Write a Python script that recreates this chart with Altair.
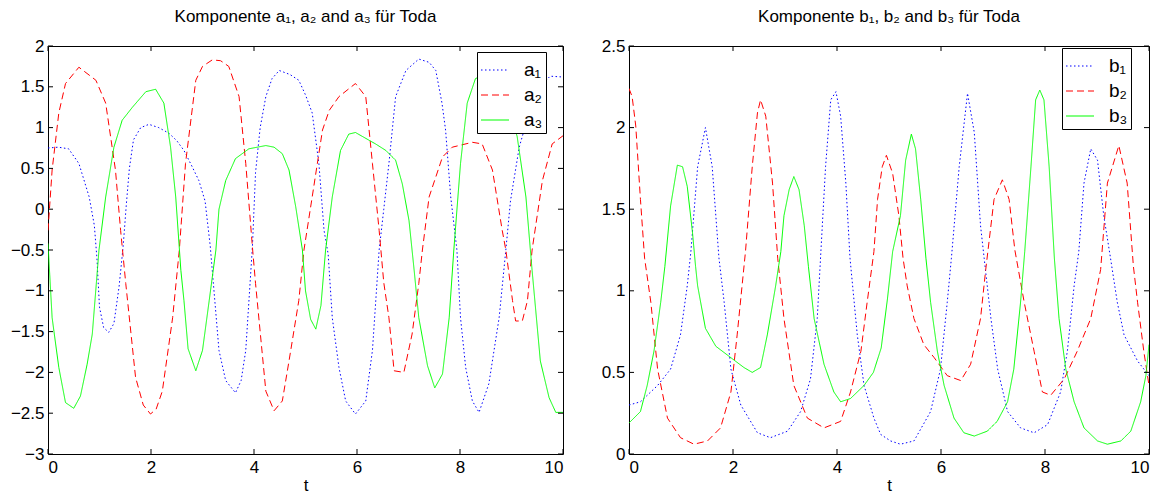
import altair as alt
import pandas as pd

# ---------------- data ----------------
a1_t = [0, 0.2, 0.4, 0.6, 0.8, 0.9, 0.95, 1.0, 1.08, 1.18, 1.28, 1.38, 1.46, 1.52, 1.58, 1.66, 1.8, 1.96,
        2.15, 2.35, 2.5, 2.64, 2.8, 2.93, 3.05, 3.15, 3.32, 3.45, 3.64, 3.75, 3.84, 3.97, 4.03, 4.12, 4.23,
        4.35, 4.49, 4.7, 4.87, 5.0, 5.13, 5.26, 5.36, 5.44, 5.52, 5.65, 5.78, 5.97, 6.17, 6.3, 6.43, 6.52,
        6.62, 6.75, 6.95, 7.2, 7.4, 7.53, 7.65, 7.72, 7.82, 7.94, 8.01, 8.11, 8.24, 8.37, 8.56, 8.76, 8.89,
        8.98, 9.15, 9.35, 9.55, 9.75, 10]
a1_v = [0.75, 0.76, 0.74, 0.56, 0.15, -0.2, -0.6, -1.2, -1.45, -1.51, -1.4, -0.95, -0.45, 0.05, 0.5, 0.85,
        1.0, 1.04, 1.0, 0.93, 0.84, 0.72, 0.52, 0.35, 0.1, -0.45, -1.73, -2.1, -2.25, -2.1, -1.73, -0.45,
        0.45, 1.0, 1.38, 1.6, 1.7, 1.65, 1.58, 1.4, 1.18, 0.56, -0.26, -0.55, -1.33, -1.94, -2.35, -2.51,
        -2.35, -1.73, -0.5, 0.0, 0.56, 1.38, 1.7, 1.84, 1.8, 1.7, 1.3, 0.97, 0.15, -0.5, -1.33, -1.94,
        -2.35, -2.49, -2.14, -1.33, -0.5, 0.1, 0.76, 1.2, 1.5, 1.63, 1.62]

a2_t = [0, 0.08, 0.21, 0.34, 0.6, 0.93, 1.12, 1.31, 1.41, 1.51, 1.7, 1.85, 1.99, 2.1, 2.22, 2.42, 2.55,
        2.67, 2.87, 3.0, 3.19, 3.35, 3.51, 3.71, 3.84, 3.97, 4.03, 4.23, 4.39, 4.55, 4.68, 4.87, 4.97, 5.13,
        5.33, 5.46, 5.65, 5.97, 6.17, 6.3, 6.43, 6.52, 6.62, 6.72, 6.91, 7.07, 7.2, 7.27, 7.4, 7.66, 7.85,
        8.24, 8.43, 8.63, 8.82, 8.89, 9.02, 9.08, 9.21, 9.31, 9.4, 9.6, 9.79, 10]
a2_v = [-0.26, 0.48, 1.18, 1.54, 1.74, 1.58, 1.3, 0.48, -0.26, -0.91, -2.06, -2.4, -2.51, -2.45, -2.23,
        -1.33, -0.5, 0.56, 1.58, 1.75, 1.83, 1.82, 1.75, 1.38, 0.56, -0.47, -0.91, -2.23, -2.47, -2.35,
        -1.86, -1.12, -0.5, 0.15, 0.97, 1.21, 1.38, 1.54, 1.38, 0.56, -0.26, -0.9, -1.33, -1.98, -2.0,
        -1.53, -0.91, -0.5, 0.15, 0.64, 0.76, 0.82, 0.8, 0.48, -0.26, -0.5, -1.12, -1.37, -1.37, -1.12,
        -0.5, 0.35, 0.8, 0.9]

a3_t = [0, 0.08, 0.21, 0.34, 0.5, 0.63, 0.76, 0.86, 0.99, 1.12, 1.28, 1.44, 1.64, 1.9, 2.09, 2.25, 2.38,
        2.48, 2.58, 2.64, 2.72, 2.87, 3.0, 3.13, 3.26, 3.32, 3.45, 3.64, 3.9, 4.23, 4.39, 4.55, 4.68, 4.81,
        4.94, 5.0, 5.1, 5.2, 5.3, 5.39, 5.52, 5.68, 5.84, 5.97, 6.36, 6.56, 6.75, 6.88, 7.01, 7.11, 7.2,
        7.37, 7.51, 7.66, 7.79, 7.88, 8.01, 8.14, 8.3, 8.5, 8.7, 8.9, 9.11, 9.28, 9.4, 9.56, 9.73, 9.86, 10]
a3_v = [-0.42, -1.33, -1.94, -2.37, -2.44, -2.29, -1.9, -1.53, -0.5, 0.15, 0.76, 1.09, 1.25, 1.44, 1.47,
        1.3, 0.76, 0.15, -0.75, -1.12, -1.71, -1.98, -1.73, -1.12, -0.5, 0.0, 0.35, 0.62, 0.74, 0.78, 0.76,
        0.68, 0.48, 0.03, -0.5, -1.0, -1.35, -1.47, -1.18, -0.5, 0.15, 0.72, 0.92, 0.94, 0.8, 0.72, 0.6,
        0.31, -0.14, -0.75, -1.33, -1.92, -2.19, -2.02, -1.33, -0.5, 0.56, 1.3, 1.6, 1.66, 1.6, 1.35, 0.89,
        0.15, -0.75, -1.86, -2.31, -2.49, -2.49]

b1_t = [0, 0.22, 0.55, 0.8, 0.99, 1.12, 1.19, 1.32, 1.47, 1.6, 1.73, 1.83, 1.96, 2.15, 2.47, 2.72, 3.05,
        3.3, 3.49, 3.62, 3.69, 3.78, 3.88, 3.98, 4.07, 4.17, 4.25, 4.39, 4.52, 4.71, 4.84, 5.03, 5.22, 5.48,
        5.8, 5.99, 6.12, 6.2, 6.35, 6.51, 6.64, 6.76, 6.83, 6.96, 7.09, 7.28, 7.53, 7.79, 8.05, 8.3, 8.43,
        8.56, 8.65, 8.75, 8.88, 9.01, 9.13, 9.26, 9.39, 9.52, 9.78, 10]
b1_v = [0.3, 0.32, 0.42, 0.52, 0.73, 1.03, 1.24, 1.76, 2.0, 1.76, 1.2, 0.93, 0.52, 0.3, 0.13, 0.1, 0.14,
        0.26, 0.46, 0.83, 1.24, 1.76, 2.17, 2.22, 2.07, 1.66, 1.2, 0.73, 0.42, 0.22, 0.12, 0.08, 0.06, 0.08,
        0.26, 0.52, 0.93, 1.2, 1.76, 2.21, 1.97, 1.4, 1.2, 0.83, 0.52, 0.26, 0.16, 0.13, 0.18, 0.38, 0.63,
        1.03, 1.24, 1.66, 1.87, 1.8, 1.46, 1.2, 0.93, 0.73, 0.57, 0.48]

b2_t = [0, 0.06, 0.13, 0.22, 0.3, 0.42, 0.55, 0.74, 0.99, 1.25, 1.51, 1.76, 1.96, 2.08, 2.24, 2.37, 2.47,
        2.53, 2.63, 2.76, 2.86, 2.98, 3.17, 3.43, 3.75, 4.07, 4.26, 4.46, 4.58, 4.71, 4.78, 4.87, 4.95, 5.07,
        5.19, 5.27, 5.35, 5.48, 5.67, 5.87, 6.12, 6.38, 6.57, 6.76, 6.86, 7.02, 7.18, 7.31, 7.42, 7.6, 7.79,
        7.95, 8.11, 8.37, 8.62, 8.88, 9.07, 9.2, 9.42, 9.58, 9.7, 9.78, 9.9, 10]
b2_v = [2.24, 2.19, 2.01, 1.56, 1.2, 0.93, 0.52, 0.22, 0.1, 0.06, 0.08, 0.16, 0.38, 0.73, 1.24, 1.76, 2.09,
        2.17, 2.07, 1.66, 1.2, 0.83, 0.42, 0.22, 0.16, 0.2, 0.38, 0.63, 0.93, 1.24, 1.56, 1.76, 1.83, 1.72,
        1.46, 1.2, 1.03, 0.83, 0.67, 0.59, 0.48, 0.45, 0.55, 0.83, 1.13, 1.56, 1.68, 1.56, 1.25, 0.93, 0.63,
        0.38, 0.36, 0.46, 0.63, 0.83, 1.13, 1.66, 1.89, 1.66, 1.15, 0.93, 0.63, 0.42]

b3_t = [0, 0.22, 0.35, 0.48, 0.61, 0.69, 0.8, 0.93, 1.03, 1.12, 1.22, 1.28, 1.32, 1.47, 1.67, 1.96, 2.21,
        2.37, 2.53, 2.66, 2.82, 2.92, 2.98, 3.08, 3.17, 3.27, 3.37, 3.45, 3.56, 3.75, 3.94, 4.07, 4.26, 4.52,
        4.7, 4.85, 4.97, 5.07, 5.22, 5.32, 5.43, 5.51, 5.61, 5.71, 5.8, 5.93, 6.06, 6.25, 6.44, 6.64, 6.89,
        7.08, 7.28, 7.4, 7.53, 7.61, 7.73, 7.82, 7.9, 7.98, 8.08, 8.18, 8.27, 8.4, 8.56, 8.75, 9.01, 9.2,
        9.46, 9.65, 9.84, 9.94, 10]
b3_v = [0.19, 0.26, 0.42, 0.63, 0.93, 1.15, 1.52, 1.77, 1.76, 1.64, 1.36, 1.15, 1.03, 0.77, 0.66, 0.59,
        0.53, 0.5, 0.53, 0.73, 1.03, 1.24, 1.46, 1.62, 1.7, 1.62, 1.4, 1.15, 0.83, 0.55, 0.38, 0.32, 0.34,
        0.42, 0.5, 0.65, 0.95, 1.24, 1.46, 1.8, 1.96, 1.87, 1.56, 1.2, 0.93, 0.63, 0.42, 0.22, 0.13, 0.11,
        0.14, 0.2, 0.32, 0.52, 0.93, 1.24, 1.76, 2.17, 2.23, 2.17, 1.76, 1.2, 0.83, 0.52, 0.32, 0.16, 0.08,
        0.06, 0.08, 0.14, 0.32, 0.48, 0.67]

a_labels = ["a\u2081", "a\u2082", "a\u2083"]
b_labels = ["b\u2081", "b\u2082", "b\u2083"]
a_title = "Komponente a\u2081, a\u2082 and a\u2083 f\u00fcr Toda"
b_title = "Komponente b\u2081, b\u2082 and b\u2083 f\u00fcr Toda"

x_ticks = [0, 2, 4, 6, 8, 10]
a_y_ticks = [-3, -2.5, -2, -1.5, -1, -0.5, 0, 0.5, 1, 1.5, 2]
b_y_ticks = [0, 0.5, 1, 1.5, 2, 2.5]

colors = ["#0000ff", "#ff0000", "#00ff00"]
dashes = [[1.5, 2.5], [7, 4], [1, 0]]
FONT = "Liberation Sans"


def long_df(labels, ts, vs, field):
    rows = []
    for lab, t, v in zip(labels, ts, vs):
        for ti, vi in zip(t, v):
            rows.append({"t": ti, "v": vi, field: lab})
    return pd.DataFrame(rows)


def panel(df, field, labels, title, ydom, yticks, w, h, lx, ly):
    xs = alt.Scale(domain=[0, 10], nice=False)
    ys = alt.Scale(domain=ydom, nice=False)
    xaxis = alt.Axis(values=x_ticks, format="d", ticks=False, domain=False, grid=False,
                     labelFontSize=17, labelPadding=5, title="t", titleFontSize=17,
                     titleFontWeight="normal", titlePadding=2, labelFont=FONT, titleFont=FONT,
                     labelColor="black", titleColor="black")
    yaxis = alt.Axis(values=yticks, format="~g", ticks=False, domain=False, grid=False,
                     labelFontSize=17, labelPadding=4, title=None, labelFont=FONT,
                     labelColor="black")
    leg = alt.Legend(title=None, orient="none", legendX=lx, legendY=ly,
                     strokeColor="black", fillColor="white", padding=3,
                     symbolType="stroke", symbolSize=784, symbolStrokeWidth=1.2,
                     labelFontSize=19, labelFont=FONT, labelOffset=14,
                     labelExpr="datum.label + '\u00a0\u00a0\u00a0\u00a0\u00a0'",
                     rowPadding=-1, labelColor="black")
    lines = alt.Chart(df).mark_line(strokeWidth=1, clip=True).encode(
        x=alt.X("t:Q", scale=xs, axis=xaxis),
        y=alt.Y("v:Q", scale=ys, axis=yaxis),
        color=alt.Color(f"{field}:N", scale=alt.Scale(domain=labels, range=colors), legend=leg),
        strokeDash=alt.StrokeDash(f"{field}:N", scale=alt.Scale(domain=labels, range=dashes),
                                  legend=leg),
        order="t:Q",
    )
    ydf = pd.DataFrame({"y": yticks})
    xdf = pd.DataFrame({"x": x_ticks})
    tick_style = dict(color="black", strokeWidth=1)
    yt_l = alt.Chart(ydf).mark_rule(**tick_style).encode(
        y=alt.Y("y:Q", scale=ys), x=alt.value(0), x2=alt.value(5))
    yt_r = alt.Chart(ydf).mark_rule(**tick_style).encode(
        y=alt.Y("y:Q", scale=ys), x=alt.value(w - 5), x2=alt.value(w))
    xt_b = alt.Chart(xdf).mark_rule(**tick_style).encode(
        x=alt.X("x:Q", scale=xs), y=alt.value(h), y2=alt.value(h - 5))
    xt_t = alt.Chart(xdf).mark_rule(**tick_style).encode(
        x=alt.X("x:Q", scale=xs), y=alt.value(0), y2=alt.value(5))
    return alt.layer(lines, yt_l, yt_r, xt_b, xt_t).properties(
        width=w, height=h,
        title=alt.TitleParams(title, fontSize=17, fontWeight="normal", font=FONT,
                              color="black", offset=11, anchor="middle"))


dfa = long_df(a_labels, [a1_t, a2_t, a3_t], [a1_v, a2_v, a3_v], "ka")
dfb = long_df(b_labels, [b1_t, b2_t, b3_t], [b1_v, b2_v, b3_v], "kb")

left = panel(dfa, "ka", a_labels, a_title, [-3, 2], a_y_ticks, 515, 408, 429, 6)
right = panel(dfb, "kb", b_labels, b_title, [0, 2.5], b_y_ticks, 520, 408, 433, 2)

chart = alt.hconcat(left, right, spacing=36).resolve_scale(
    color="independent", strokeDash="independent", x="independent", y="independent"
).configure_view(stroke="black", strokeWidth=1).properties(
    padding={"left": 9, "top": 7, "right": 0, "bottom": 0}, background="white")

chart.save("out.html", embed_options={"renderer": "svg", "actions": False})
